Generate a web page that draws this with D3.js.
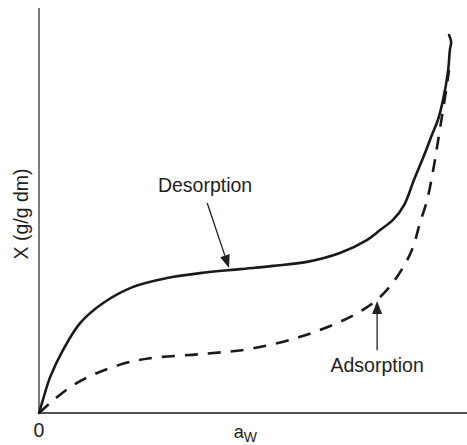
<!DOCTYPE html>
<html><head><meta charset="utf-8">
<script src="https://cdn.jsdelivr.net/npm/d3@7"></script>
<style>body{margin:0;background:#fff}svg{display:block}text{font-family:"Liberation Sans",Arial,sans-serif;fill:#231f20}</style>
</head><body>
<script>
// aw (water activity) and X (relative moisture content)
const desorptionAw = [0,0.009,0.026,0.056,0.096,0.150,0.220,0.299,0.376,0.470,0.547,0.626,0.703,0.766,0.797,0.827,0.853,0.876,0.900,0.918,0.932,0.944,0.956,0.960,0.963,0.958];
const desorptionX  = [0,0.032,0.089,0.156,0.223,0.273,0.313,0.335,0.347,0.357,0.365,0.375,0.397,0.429,0.454,0.479,0.516,0.578,0.640,0.690,0.727,0.777,0.851,0.901,0.921,0.938];
const adsorptionAw = [0,0.026,0.077,0.131,0.196,0.259,0.376,0.493,0.610,0.703,0.757,0.797,0.836,0.871,0.890,0.907,0.921,0.930,0.942,0.953,0.958];
const adsorptionX  = [0,0.025,0.067,0.097,0.122,0.136,0.146,0.159,0.189,0.226,0.256,0.288,0.337,0.404,0.471,0.529,0.603,0.660,0.739,0.814,0.851];
const xTickLabels = ["0"];
const xAxisTitle = "a", xAxisSub = "W";
const yAxisTitle = "X (g/g dm)";
const labels = ["Desorption", "Adsorption"];
// annotation anchors in data units: [labelAw, labelX, arrowStartAw, arrowStartX, tipAw, tipX]
const desorptionNote = [0.388, 0.548, 0.393, 0.521, 0.444, 0.360];
const adsorptionNote = [0.790, 0.102, 0.790, 0.156, 0.790, 0.278];

const W = 467, H = 445;
const svg = d3.select("body").append("svg").attr("width", W).attr("height", H);
const x = d3.scaleLinear().domain([0, 1]).range([39, 467]);
const y = d3.scaleLinear().domain([0, 1]).range([413, 10]);

// axes
svg.append("line").attr("x1", x(0)).attr("x2", x(0)).attr("y1", y(1) - 2).attr("y2", y(0))
  .attr("stroke", "#7a7a7a").attr("stroke-width", 2);
svg.append("line").attr("x1", x(0)).attr("x2", x(1)).attr("y1", y(0)).attr("y2", y(0))
  .attr("stroke", "#555").attr("stroke-width", 2);

const line = d3.line().x(d => x(d[0])).y(d => y(d[1])).curve(d3.curveCatmullRom.alpha(0.5));
svg.append("path").datum(desorptionAw.map((a, i) => [a, desorptionX[i]]))
  .attr("d", line).attr("fill", "none").attr("stroke", "#1a1a1a").attr("stroke-width", 2.6)
  .attr("stroke-linecap", "round");
svg.append("path").datum(adsorptionAw.map((a, i) => [a, adsorptionX[i]]))
  .attr("d", line).attr("fill", "none").attr("stroke", "#1a1a1a").attr("stroke-width", 2.6)
  .attr("stroke-dasharray", "13,10");

// tick label
svg.append("text").attr("x", x(0)).attr("y", 437).attr("text-anchor", "middle")
  .attr("font-size", 19.5).text(xTickLabels[0]);
// x title
const xt = svg.append("text").attr("x", x(0.482)).attr("y", 438).attr("text-anchor", "middle").attr("font-size", 18);
xt.append("tspan").text(xAxisTitle);
xt.append("tspan").attr("font-size", 14).attr("dy", 4).text(xAxisSub);
// y title
svg.append("text").attr("transform", `translate(28,${y(0.494)}) rotate(-90)`).attr("text-anchor", "middle")
  .attr("font-size", 19.5).text(yAxisTitle);

function note(n, txt) {
  svg.append("text").attr("x", x(n[0])).attr("y", y(n[1])).attr("text-anchor", "middle")
    .attr("font-size", 19.5).text(txt);
  const x0 = x(n[2]), y0 = y(n[3]), x1 = x(n[4]), y1 = y(n[5]);
  const ang = Math.atan2(y1 - y0, x1 - x0);
  const L = 13, hw = 5;
  const bx = x1 - L * Math.cos(ang), by = y1 - L * Math.sin(ang);
  svg.append("line").attr("x1", x0).attr("y1", y0).attr("x2", bx).attr("y2", by)
    .attr("stroke", "#231f20").attr("stroke-width", 1.3);
  const px = -Math.sin(ang), py = Math.cos(ang);
  svg.append("path").attr("d", `M${x1},${y1}L${bx + px * hw},${by + py * hw}L${bx - px * hw},${by - py * hw}Z`)
    .attr("fill", "#231f20");
}
note(desorptionNote, labels[0]);
note(adsorptionNote, labels[1]);
</script>
</body></html>
